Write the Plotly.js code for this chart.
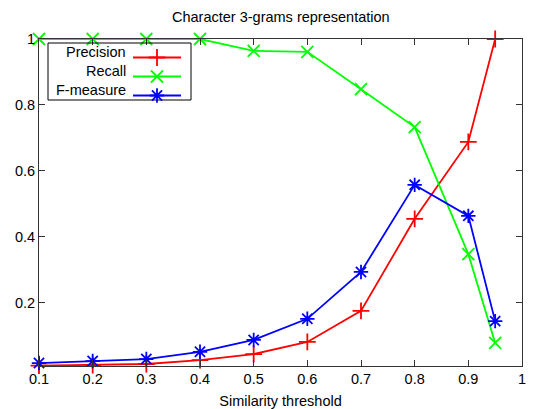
<!DOCTYPE html>
<html>
<head>
<meta charset="utf-8">
<script src="https://cdn.plot.ly/plotly-3.0.1.min.js"></script>
<style>html,body{margin:0;padding:0;background:#fff;}#chart{width:541px;height:409px;}</style>
</head>
<body>
<div id="chart"></div>
<script>
var thresholds = [0.1, 0.2, 0.3, 0.4, 0.5, 0.6, 0.7, 0.8, 0.9, 0.95];
var precision = [0.010, 0.012, 0.015, 0.027, 0.045, 0.082, 0.176, 0.455, 0.688, 1.0];
var recall    = [1.0, 1.0, 1.0, 1.0, 0.964, 0.961, 0.848, 0.733, 0.348, 0.079];
var fmeasure  = [0.018, 0.024, 0.030, 0.052, 0.088, 0.152, 0.294, 0.558, 0.464, 0.145];
var seriesNames = ['Precision', 'Recall', 'F-measure'];
var seriesColors = ['#ff0000', '#00ff00', '#0000ff'];
var seriesSymbols = ['cross-thin', 'x-thin', 'asterisk'];
var xTicks = [0.1, 0.2, 0.3, 0.4, 0.5, 0.6, 0.7, 0.8, 0.9, 1];
var yTicks = [0.2, 0.4, 0.6, 0.8, 1];

var seriesValues = [precision, recall, fmeasure];
var font = 'Liberation Sans, Arial, sans-serif';
var fs = 14.5;
var traces = [];
seriesValues.forEach(function (vals, i) {
  traces.push({
    x: thresholds, y: vals, type: 'scatter', mode: 'lines+markers',
    name: seriesNames[i], showlegend: false, cliponaxis: false,
    line: {color: seriesColors[i], width: 1.8},
    marker: {symbol: seriesSymbols[i], size: 12, color: seriesColors[i],
             line: {color: seriesColors[i], width: 1.8}}
  });
});
// legend-only entries (symbols); labels drawn as text to the left, gnuplot style
seriesValues.forEach(function (vals, i) {
  traces.push({
    x: [null], y: [null], type: 'scatter', mode: 'lines+markers',
    name: ' ', showlegend: true, hoverinfo: 'skip',
    line: {color: seriesColors[i], width: 1.8},
    marker: {symbol: seriesSymbols[i], size: 12, color: seriesColors[i],
             line: {color: seriesColors[i], width: 1.8}}
  });
});

var W = 541, H = 409, ml = 39, mr = 19, mt = 39, mb = 43;
var pw = W - ml - mr, ph = H - mt - mb;
function px(x) { return (x - ml) / pw; }
function py(y) { return 1 - (y - mt) / ph; }

var rowY = [52, 71, 90];
var annotations = [{
  text: 'Character 3-grams representation', xref: 'paper', yref: 'paper',
  x: px(281), y: py(17), xanchor: 'center', yanchor: 'middle', showarrow: false,
  font: {family: font, size: fs, color: '#000'}
}];
seriesNames.forEach(function (n, i) {
  annotations.push({
    text: n, xref: 'paper', yref: 'paper', x: px(128), y: py(rowY[i]),
    xanchor: 'right', yanchor: 'middle', showarrow: false,
    font: {family: font, size: fs, color: '#000'}
  });
});

var layout = {
  width: W, height: H,
  margin: {l: ml, r: mr, t: mt, b: mb},
  paper_bgcolor: '#fff', plot_bgcolor: '#fff',
  font: {family: font, size: fs, color: '#000'},
  xaxis: {
    range: [0.1, 1.0], tickvals: xTicks, ticktext: xTicks.map(String),
    ticks: 'inside', ticklen: 6, tickcolor: '#333', showline: true, linecolor: '#333',
    linewidth: 1, mirror: 'ticks', showgrid: false, zeroline: false,
    tickfont: {family: font, size: fs},
    title: {text: 'Similarity threshold', font: {family: font, size: fs}, standoff: 10}
  },
  yaxis: {
    range: [0.009, 1.0], tickvals: yTicks, ticktext: yTicks.map(String),
    ticks: 'inside', ticklen: 6, tickcolor: '#333', showline: true, linecolor: '#333',
    linewidth: 1, mirror: 'ticks', showgrid: false, zeroline: false,
    tickfont: {family: font, size: fs}
  },
  showlegend: true,
  legend: {
    x: px(128), y: py(43), xanchor: 'left', yanchor: 'top',
    bgcolor: 'rgba(0,0,0,0)', borderwidth: 0, itemwidth: 48,
    font: {family: font, size: 12}, tracegroupgap: 0
  },
  shapes: [{
    type: 'rect', xref: 'paper', yref: 'paper',
    x0: px(48), x1: px(191), y0: py(43), y1: py(100),
    line: {color: '#000', width: 1}, fillcolor: 'rgba(0,0,0,0)'
  }],
  annotations: annotations
};

Plotly.newPlot('chart', traces, layout, {displayModeBar: false, staticPlot: true});
</script>
</body>
</html>
